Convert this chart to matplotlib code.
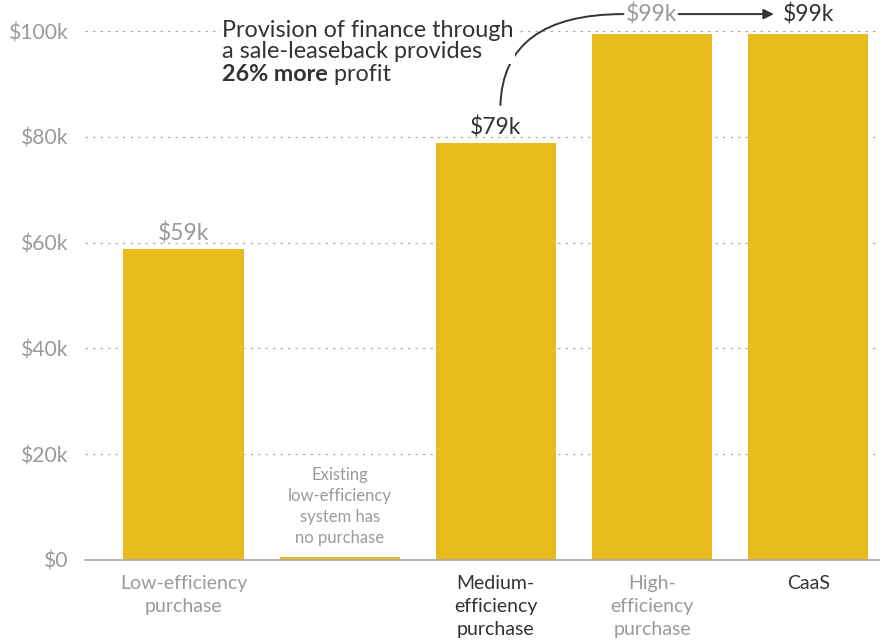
import numpy as np
import matplotlib
matplotlib.use('Agg')
import matplotlib.pyplot as plt

plt.rcParams['font.family'] = ['Lato', 'DejaVu Sans']

categories = ['Low-efficiency\npurchase', '', 'Medium-\nefficiency\npurchase',
              'High-\nefficiency\npurchase', 'CaaS']
values = [58.8, 0.6, 78.8, 99.4, 99.4]
value_labels = ['$59k', '', '$79k', '$99k', '$99k']
yticks = [0, 20, 40, 60, 80, 100]
ytick_labels = ['$0', '$20k', '$40k', '$60k', '$80k', '$100k']

bar_color = '#E8BC1E'
grey = '#9a9a9a'
dark = '#333333'
cat_colors = [grey, grey, dark, grey, dark]

fig = plt.figure(figsize=(8.8, 6.43), dpi=100)
ax = fig.add_axes([0.0966, 0.1291, 0.9034, 0.8638])

x = np.arange(len(categories))
ax.bar(x, values, width=0.77, color=bar_color, zorder=2)

ax.set_xlim(-0.631, 4.46)
ax.set_ylim(0, 105)
ax.set_yticks(yticks)
ax.set_yticklabels(ytick_labels, fontsize=15.2, color=grey)
ax.tick_params(axis='y', length=0, pad=12)
ax.tick_params(axis='x', length=0, pad=11)
ax.set_xticks(x)
ax.set_xticklabels(categories, fontsize=14, linespacing=1.42, va='top')
for lbl, c in zip(ax.get_xticklabels(), cat_colors):
    lbl.set_color(c)

for s in ['top', 'right', 'left']:
    ax.spines[s].set_visible(False)
ax.spines['bottom'].set_color('#aaaaaa')
ax.spines['bottom'].set_linewidth(1.2)
ax.yaxis.grid(True, linestyle=(0, (2, 4)), color='#b0b0b0', linewidth=0.9, zorder=0)
ax.set_axisbelow(True)

# value labels
ax.text(0, values[0] + 0.9, value_labels[0], ha='center', va='bottom', fontsize=16.5, color=grey)
ax.text(2, values[2] + 0.9, value_labels[2], ha='center', va='bottom', fontsize=16.5, color=dark)
ax.text(3, 103.2, value_labels[3], ha='center', va='center', fontsize=16.5, color=grey, zorder=5)
ax.text(4, 103.2, value_labels[4], ha='center', va='center', fontsize=16.5, color=dark, zorder=5)

# note for empty bar
ax.text(1, 17.6, 'Existing\nlow-efficiency\nsystem has\nno purchase', ha='center', va='top',
        fontsize=12, color=grey, linespacing=1.38,
        bbox=dict(facecolor='white', edgecolor='none', pad=2), zorder=3)

# annotation
t1 = ax.text(0.247, 102.0, 'Provision of finance through\na sale-leaseback provides',
             ha='left', va='top', fontsize=16.8, color=dark, linespacing=1.0,
             bbox=dict(facecolor='white', edgecolor='none', pad=1), zorder=4)
t2 = ax.annotate('26% more', xy=(0, 0), xycoords=t1, xytext=(0, -1), textcoords='offset points',
                 ha='left', va='top', fontsize=16.8, color=dark, fontweight='bold')
ax.annotate(' profit', xy=(1, 0), xycoords=t2, ha='left', va='bottom', fontsize=16.8, color=dark)

# curved connector from $79k to grey $99k
ax.annotate('', xy=(2.817, 103.2), xytext=(2.029, 86.0),
            arrowprops=dict(arrowstyle='-', color=dark, lw=1.4, shrinkA=0, shrinkB=0,
                            connectionstyle='angle3,angleA=88,angleB=0'))
ax.annotate('', xy=(3.78, 103.2), xytext=(3.17, 103.2),
            arrowprops=dict(arrowstyle='-|>', color=dark, lw=1.4, mutation_scale=15,
                            shrinkA=0, shrinkB=0))

fig.savefig('out.png', dpi=100)
